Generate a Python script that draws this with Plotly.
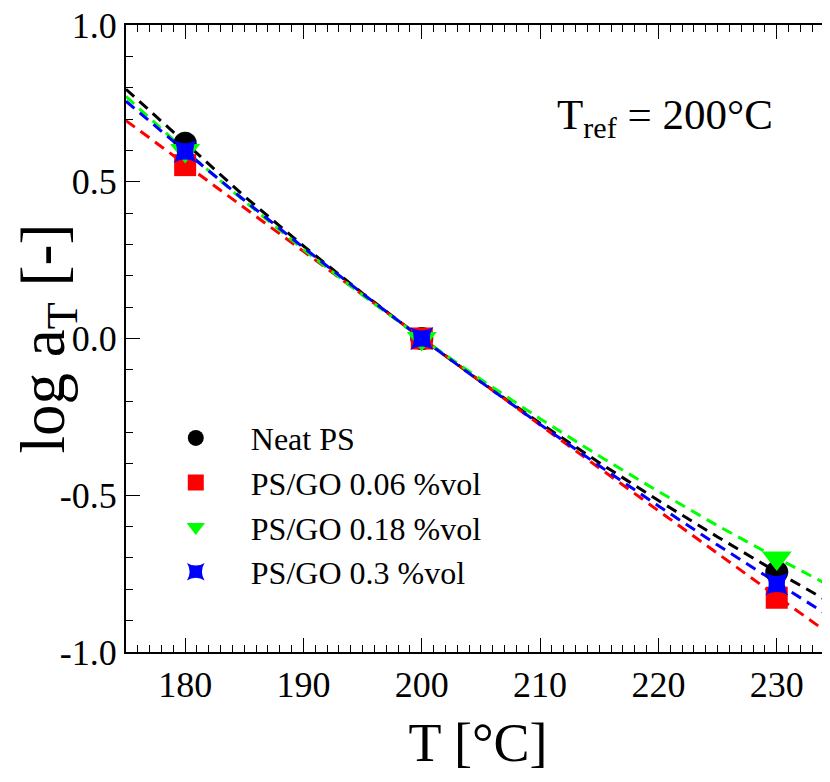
import plotly.graph_objects as go

# Measured shift factors
T_meas = [180, 200, 230]
neat_ps = [0.623, 0.0, -0.745]
psgo_006 = [0.553, 0.0, -0.827]
psgo_018 = [0.600, 0.0, -0.700]
psgo_03 = [0.597, 0.0, -0.783]

# Fit curves
T_fit = [175, 180, 185, 190, 195, 200, 205, 210, 215, 220, 225, 230, 235]
fit_neat = [0.795, 0.623, 0.454, 0.295, 0.144, 0.0, -0.138, -0.270, -0.396, -0.517, -0.633, -0.745, -0.852]
fit_006 = [0.695, 0.555, 0.417, 0.278, 0.139, 0.0, -0.138, -0.276, -0.413, -0.550, -0.686, -0.822, -0.957]
fit_018 = [0.772, 0.600, 0.438, 0.284, 0.138, 0.0, -0.131, -0.256, -0.375, -0.488, -0.597, -0.700, -0.799]
fit_03 = [0.757, 0.597, 0.441, 0.290, 0.143, 0.0, -0.139, -0.274, -0.406, -0.534, -0.659, -0.780, -0.899]

names = ["Neat PS", "PS/GO 0.06 %vol", "PS/GO 0.18 %vol", "PS/GO 0.3 %vol"]
colors = ["#000000", "#ff0000", "#00ff00", "#0000ff"]
symbols = ["circle", "square", "triangle-down", "star-square"]
sizes = [23, 22, 26, 21]

FONT = "Liberation Serif"

fig = go.Figure()
for fy, c in zip([fit_neat, fit_006, fit_018, fit_03], colors):
    fig.add_trace(go.Scatter(x=T_fit, y=fy, mode="lines", showlegend=False,
                             line=dict(color=c, width=3, dash="11px,7px"),
                             hoverinfo="skip"))
for y, n, c, s, sz in zip([neat_ps, psgo_006, psgo_018, psgo_03], names, colors, symbols, sizes):
    fig.add_trace(go.Scatter(x=T_meas, y=y, mode="markers", name=n,
                             marker=dict(color=c, symbol=s, size=sz, line=dict(width=0))))

# page body adds an 8px offset, so the figure is 8px smaller than the window
fig.update_layout(
    width=822, height=774,
    margin=dict(l=118, r=0, t=17, b=130),
    paper_bgcolor="white", plot_bgcolor="white",
    font=dict(family=FONT, color="black"),
    showlegend=True,
    legend=dict(x=0.021, y=0.385, xanchor="left", yanchor="top",
                bgcolor="rgba(0,0,0,0)", font=dict(size=32, family=FONT),
                itemsizing="trace", itemwidth=100, tracegroupgap=0),
    annotations=[dict(text="T<sub>ref</sub> = 200°C", x=0.765, y=0.852,
                      xref="paper", yref="paper", xanchor="center", yanchor="middle",
                      showarrow=False, font=dict(size=43, family=FONT))],
)
fig.update_xaxes(range=[175, 234.5], tickvals=[180, 190, 200, 210, 220, 230],
                 ticks="inside", ticklen=14, tickwidth=1.2, tickcolor="black",
                 minor=dict(dtick=1, ticks="inside", ticklen=7, tickwidth=1, tickcolor="black"),
                 showline=True, linecolor="black", linewidth=2, mirror="allticks",
                 showgrid=False, zeroline=False, automargin=False,
                 ticklabeloverflow="allow",
                 tickfont=dict(size=36, family=FONT),
                 title=dict(text="T [°C]", font=dict(size=54, family=FONT), standoff=19))
fig.update_yaxes(range=[-1.0, 1.0], tickvals=[-1.0, -0.5, 0.0, 0.5, 1.0],
                 ticktext=["-1.0", "-0.5", "0.0", "0.5", "1.0"],
                 ticks="inside", ticklen=14, tickwidth=1.2, tickcolor="black",
                 minor=dict(dtick=0.1, ticks="inside", ticklen=7, tickwidth=1, tickcolor="black"),
                 showline=True, linecolor="black", linewidth=2, mirror=False,
                 showgrid=False, zeroline=False, automargin=False,
                 ticklabeloverflow="allow",
                 tickfont=dict(size=36, family=FONT),
                 title=dict(text="log a<sub>T</sub> [-]", font=dict(size=63, family=FONT), standoff=6))

fig.write_html("out.html")
